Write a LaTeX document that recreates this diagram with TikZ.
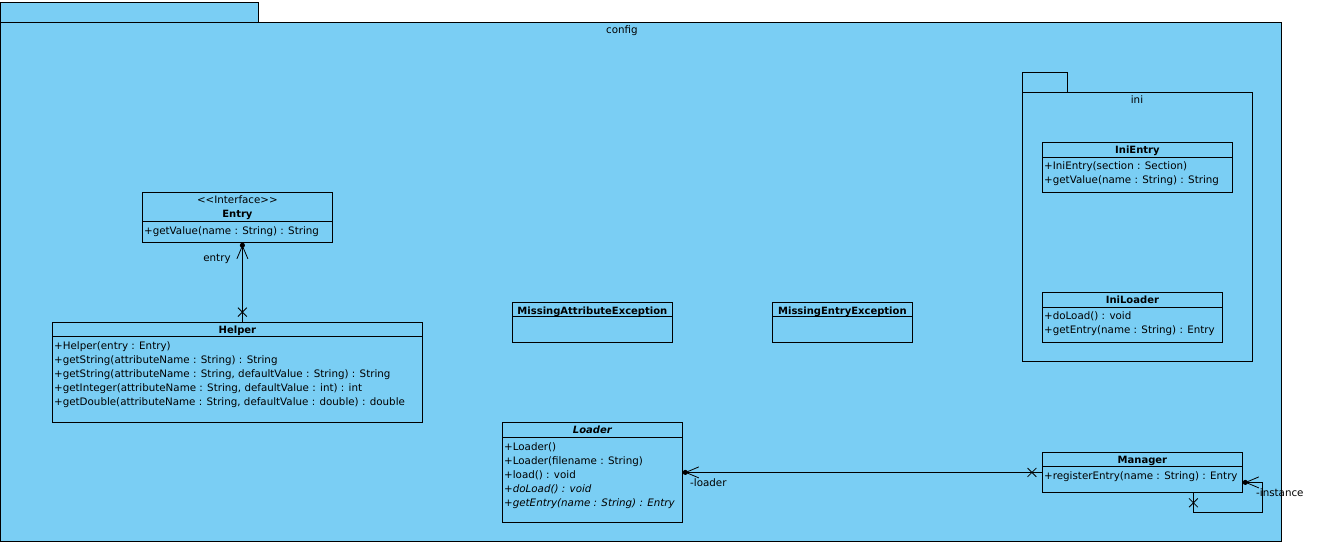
\documentclass[tikz,border=0pt]{standalone}
\usepackage{fontspec}
\setmainfont{DejaVu Sans}
\usetikzlibrary{arrows.meta,positioning,shapes.misc}
\definecolor{VPBlue}{HTML}{7ACEF4}

\begin{document}
\begin{tikzpicture}[x=1pt,y=-1pt,
    pkg/.style={draw,line width=0.8pt,fill=VPBlue},
    classbox/.style={draw,line width=0.8pt,fill=VPBlue,anchor=north west,inner sep=0pt},
    cname/.style={font=\bfseries\fontsize{10pt}{12pt}\selectfont,anchor=base,inner sep=0pt},
    plain/.style={font=\fontsize{10.3pt}{14pt}\selectfont,inner sep=0pt},
    ops/.style={plain,align=left,anchor=base west},
    sepline/.style={line width=0.8pt},
    assoc/.style={line width=0.8pt},
    navend/.style={-{Straight Barb[length=13pt,width=11pt,sep=-3pt]Circle[length=5pt]}},
    xmark/.style={draw,cross out,minimum size=8pt,inner sep=0pt,line width=0.8pt}
  ]
  \useasboundingbox (0,0) rectangle (1326,546);
  % packages
  \draw[pkg] (0,2) rectangle (258,22);
  \draw[pkg] (0,22) rectangle (1281,541);
  \node[plain,anchor=base] (configlbl) at (622,34) {config};
  \draw[pkg] (1022,72) rectangle (1067,92);
  \draw[pkg] (1022,92) rectangle (1252,361);
  \node[plain,anchor=base] (inilbl) at (1137,103) {ini};
  % Entry
  \node[classbox,minimum width=190pt,minimum height=50pt] (entry) at (142,192) {};
  \node[plain,anchor=base] (entrystereo) at ([yshift=-11pt]entry.north) {<{}<Interface>{}>};
  \node[cname] (entryname) at ([yshift=-25pt]entry.north) {Entry};
  \draw[sepline] ([yshift=-29pt]entry.north west) -- ([yshift=-29pt]entry.north east);
  \node[ops] (entryops) at ([xshift=2pt,yshift=-42pt]entry.north west) {+getValue(name : String) : String};
  % Helper (base anchor sits on the last line)
  \node[classbox,minimum width=370pt,minimum height=100pt] (helper) at (52,322) {};
  \node[cname] (helpername) at ([yshift=-11pt]helper.north) {Helper};
  \draw[sepline] ([yshift=-14pt]helper.north west) -- ([yshift=-14pt]helper.north east);
  \node[ops] (helperops) at ([xshift=2pt,yshift=-83pt]helper.north west) {+Helper(entry : Entry)\\
    +getString(attributeName : String) : String\\
    +getString(attributeName : String, defaultValue : String) : String\\
    +getInteger(attributeName : String, defaultValue : int) : int\\
    +getDouble(attributeName : String, defaultValue : double) : double};
  % exceptions
  \node[classbox,minimum width=160pt,minimum height=40pt] (attrexc) at (512,302) {};
  \node[cname] (attrexcname) at ([yshift=-12pt]attrexc.north) {MissingAttributeException};
  \draw[sepline] ([yshift=-14pt]attrexc.north west) -- ([yshift=-14pt]attrexc.north east);
  \node[classbox,minimum width=140pt,minimum height=40pt] (entryexc) at (772,302) {};
  \node[cname] (entryexcname) at ([yshift=-12pt]entryexc.north) {MissingEntryException};
  \draw[sepline] ([yshift=-14pt]entryexc.north west) -- ([yshift=-14pt]entryexc.north east);
  % Loader
  \node[classbox,minimum width=180pt,minimum height=100pt] (loader) at (502,422) {};
  \node[cname,font=\bfseries\itshape\fontsize{10pt}{12pt}\selectfont] (loadername) at ([yshift=-11pt]loader.north) {Loader};
  \draw[sepline] ([yshift=-15pt]loader.north west) -- ([yshift=-15pt]loader.north east);
  \node[ops] (loaderops) at ([xshift=2pt,yshift=-84pt]loader.north west) {+Loader()\\
    +Loader(filename : String)\\
    +load() : void\\
    \textit{+doLoad() : void}\\
    \textit{+getEntry(name : String) : Entry}};
  % Manager
  \node[classbox,minimum width=200pt,minimum height=40pt] (manager) at (1042,452) {};
  \node[cname] (managername) at ([yshift=-11pt]manager.north) {Manager};
  \draw[sepline] ([yshift=-14pt]manager.north west) -- ([yshift=-14pt]manager.north east);
  \node[ops] (managerops) at ([xshift=2pt,yshift=-27pt]manager.north west) {+registerEntry(name : String) : Entry};
  % ini
  \node[classbox,minimum width=190pt,minimum height=50pt] (inientry) at (1042,142) {};
  \node[cname] (inientryname) at ([yshift=-11pt]inientry.north) {IniEntry};
  \draw[sepline] ([yshift=-15pt]inientry.north west) -- ([yshift=-15pt]inientry.north east);
  \node[ops] (inientryops) at ([xshift=2pt,yshift=-41pt]inientry.north west) {+IniEntry(section : Section)\\
    +getValue(name : String) : String};
  \node[classbox,minimum width=180pt,minimum height=50pt] (iniloader) at (1042,292) {};
  \node[cname] (iniloadername) at ([yshift=-11pt]iniloader.north) {IniLoader};
  \draw[sepline] ([yshift=-15pt]iniloader.north west) -- ([yshift=-15pt]iniloader.north east);
  \node[ops] (iniloaderops) at ([xshift=2pt,yshift=-41pt]iniloader.north west) {+doLoad() : void\\
    +getEntry(name : String) : Entry};
  % associations
  \draw[assoc,navend] ([xshift=5pt]helper.north) -- node[xmark,pos=0.125] (entryx) {} ([xshift=5pt]entry.south);
  \node[plain,anchor=base] (entryrole) at (217,261) {entry};
  \draw[assoc,navend] (manager.west) -- node[xmark,pos=0.028] (loaderx) {} (loader.east);
  \node[plain,anchor=base west] (loaderrole) at (690,486) {-loader};
  \draw[assoc,navend] ([xshift=51pt]manager.south) -- node[xmark,pos=0.5] (instancex) {} ++(0,20)
    -| ([xshift=20pt,yshift=-10pt]manager.east) -- ([yshift=-10pt]manager.east);
  \node[plain,anchor=base west] (instancerole) at (1256,496) {-instance};
\end{tikzpicture}
\end{document}
